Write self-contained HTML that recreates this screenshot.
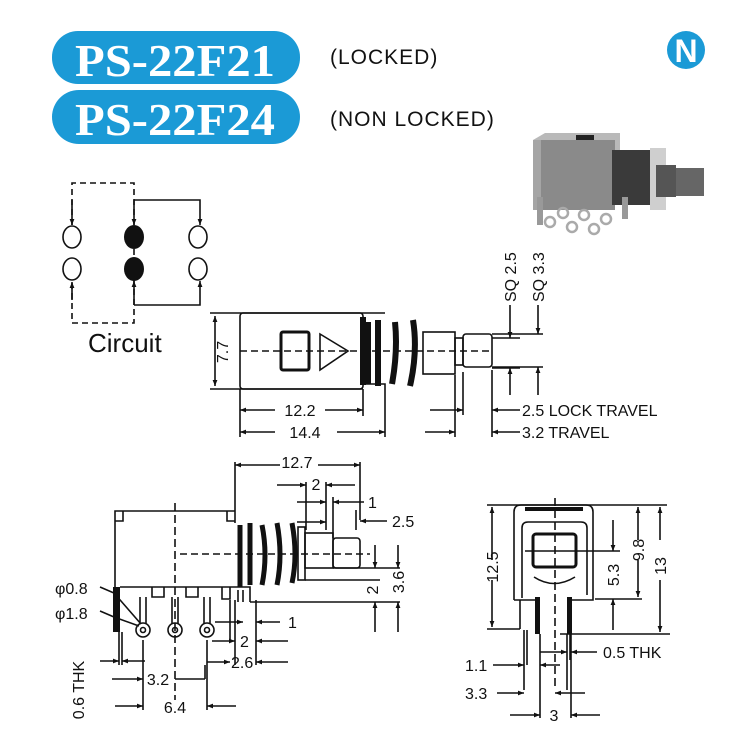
<!DOCTYPE html>
<html><head><meta charset="utf-8"><style>
html,body{margin:0;padding:0;background:#fff;}
svg{display:block;}
text{font-family:"Liberation Sans",sans-serif;fill:#111;}
.d{font-size:16px;}
</style></head><body>
<svg width="735" height="744" viewBox="0 0 735 744" xmlns="http://www.w3.org/2000/svg">
<defs>
<marker id="a" viewBox="0 0 10 10" refX="10" refY="5" markerWidth="9" markerHeight="6" orient="auto-start-reverse" markerUnits="userSpaceOnUse"><path d="M0,1 L10,5 L0,9 z" fill="#111"/></marker>
</defs>
<!-- header -->
<rect x="52" y="31" width="248" height="53" rx="26" fill="#1b9ad6"/>
<rect x="52" y="90" width="248" height="54" rx="27" fill="#1b9ad6"/>
<text x="75" y="76" textLength="200" lengthAdjust="spacingAndGlyphs" style="font-family:'Liberation Serif',serif;font-weight:bold;font-size:46px;fill:#fff">PS-22F21</text>
<text x="75" y="135" textLength="200" lengthAdjust="spacingAndGlyphs" style="font-family:'Liberation Serif',serif;font-weight:bold;font-size:46px;fill:#fff">PS-22F24</text>
<text x="330" y="64" style="font-size:21px;letter-spacing:1px">(LOCKED)</text>
<text x="330" y="126" style="font-size:21px;letter-spacing:1px">(NON LOCKED)</text>
<circle cx="686" cy="50" r="19" fill="#1b9ad6"/>
<text x="686" y="62" text-anchor="middle" style="font-size:32px;font-weight:bold;fill:#fff">N</text>
<!-- photo -->
<g>
<polygon points="533,140 545,133 620,133 620,150 533,150" fill="#b9b9b9"/>
<rect x="533" y="140" width="82" height="70" fill="#8a8a8a"/>
<rect x="533" y="140" width="8" height="70" fill="#a5a5a5"/>
<rect x="576" y="135" width="18" height="5" fill="#222"/>
<rect x="612" y="150" width="42" height="55" fill="#3a3a3a"/>
<rect x="650" y="148" width="16" height="62" fill="#cfcfcf"/>
<rect x="656" y="165" width="20" height="32" fill="#555"/>
<rect x="676" y="168" width="28" height="28" fill="#666"/>
<rect x="537" y="197" width="6" height="28" fill="#999"/>
<rect x="622" y="197" width="6" height="22" fill="#999"/>
<g fill="none" stroke="#aaa" stroke-width="2.5"><circle cx="550" cy="222" r="5"/><circle cx="563" cy="213" r="5"/><circle cx="572" cy="227" r="5"/><circle cx="584" cy="215" r="5"/><circle cx="594" cy="229" r="5"/><circle cx="606" cy="219" r="5"/></g>
</g>
<!-- circuit -->
<g stroke="#111" stroke-width="1.6" fill="none">
<path d="M72,225 V183 H134 V323 H72 V282" stroke-dasharray="6,4"/>
<path d="M72,200 V225" marker-end="url(#a)"/>
<path d="M72,300 V282" marker-end="url(#a)"/>
<path d="M134,200 V225" marker-end="url(#a)"/>
<path d="M134,200 H200 V225" marker-end="url(#a)"/>
<path d="M134,305 V281" marker-end="url(#a)"/>
<path d="M134,305 H200 V281" marker-end="url(#a)"/>
<ellipse cx="72" cy="237" rx="9" ry="11"/><ellipse cx="198" cy="237" rx="9" ry="11"/>
<ellipse cx="72" cy="269" rx="9" ry="11"/><ellipse cx="198" cy="269" rx="9" ry="11"/>
</g>
<ellipse cx="134" cy="237" rx="10" ry="12" fill="#111"/><ellipse cx="134" cy="269" rx="10" ry="12" fill="#111"/>
<text x="88" y="352" style="font-size:26px">Circuit</text>
<!-- top drawing -->
<g stroke="#111" stroke-width="1.6" fill="none">
<path d="M210,313 H385 M210,389 H363"/>
<path d="M215,316 V386" marker-start="url(#a)" marker-end="url(#a)"/>
<rect x="240" y="313" width="123" height="76" rx="3"/>
<path d="M363,384 H385 V437 M240,389 V437 M363,389 V416"/>
<rect x="281" y="332" width="28" height="38" rx="2" stroke-width="3"/>
<path d="M320,334 L348,351 L320,370 Z"/>
<rect x="423" y="332" width="32" height="42"/>
<rect x="455" y="338" width="8" height="27"/>
<rect x="463" y="334" width="29" height="33" rx="3"/>
<path d="M240,351 H492" stroke-dasharray="7,4"/>
<path d="M492,338 H520 M492,334 H543 M492,368 H520 M492,367 H543"/>
<path d="M510,305 V338" marker-end="url(#a)"/><path d="M538,305 V334" marker-end="url(#a)"/>
<path d="M510,395 V368" marker-end="url(#a)"/><path d="M538,395 V367" marker-end="url(#a)"/>
<path d="M463,372 V415 M492,370 V437 M455,375 V437"/>
<path d="M430,410 H463" marker-end="url(#a)"/><path d="M520,410 H492" marker-end="url(#a)"/>
<path d="M425,432 H455" marker-end="url(#a)"/><path d="M520,432 H492" marker-end="url(#a)"/>
<path d="M275,410 H240" marker-end="url(#a)"/><path d="M325,410 H363" marker-end="url(#a)"/>
<path d="M275,432 H240" marker-end="url(#a)"/><path d="M337,432 H385" marker-end="url(#a)"/>
</g>
<g fill="none" stroke="#111" stroke-width="6">
<path d="M368,322 V384 M378,320 V386 M395,322 Q398,351 392,384 M413,320 Q418,351 410,386"/>
</g>
<rect x="360" y="317" width="6" height="68" fill="#111"/>
<text class="d" transform="translate(228,352) rotate(-90)" text-anchor="middle">7.7</text>
<text class="d" x="300" y="416" text-anchor="middle">12.2</text>
<text class="d" x="305" y="438" text-anchor="middle">14.4</text>
<text class="d" x="522" y="416">2.5  LOCK  TRAVEL</text>
<text class="d" x="522" y="438">3.2  TRAVEL</text>
<text class="d" transform="translate(516,302) rotate(-90)">SQ 2.5</text>
<text class="d" transform="translate(544,302) rotate(-90)">SQ 3.3</text>
<!-- bottom-left -->
<g stroke="#111" stroke-width="1.6" fill="none">
<path d="M115,587 V511 H235 V462 M235,511 V523 M115,511 h8 v10 h-8 M235,511 h-8 v10 h8"/>
<path d="M360,462 V520"/>
<path d="M280,465 H235" marker-end="url(#a)"/><path d="M318,465 H360" marker-end="url(#a)"/>
<path d="M175,503 V700" stroke-dasharray="8,4"/>
<path d="M180,554 H370" stroke-dasharray="7,4"/>
<rect x="298" y="527" width="7" height="53"/>
<rect x="305" y="533" width="28" height="35"/>
<rect x="333" y="538" width="27" height="30" rx="3"/>
<path d="M333,568 H400 M305,580 H380 M250,602 H400 M120,587 H250 V602"/>
<path d="M306,482 V530 M326,482 V530 M333,497 V538 M356,510 V530"/>
<path d="M277,485 H306" marker-end="url(#a)"/><path d="M355,485 H326" marker-end="url(#a)"/>
<path d="M297,502 H326" marker-end="url(#a)"/><path d="M364,502 H333" marker-end="url(#a)"/>
<path d="M297,522 H326" marker-end="url(#a)"/><path d="M387,521 H360" marker-end="url(#a)"/>
<path d="M375,545 V568" marker-end="url(#a)"/><path d="M375,632 V602" marker-end="url(#a)"/>
<path d="M398,545 V568" marker-end="url(#a)"/><path d="M398,632 V602" marker-end="url(#a)"/>
<path d="M152,587 v10 h12 v-10 M186,587 v10 h12 v-10 M222,587 v12 h8 v-12 M238,590 v12 M243,590 v12"/>
<path d="M140,597 V624 M146,597 V624 M172,597 V624 M178,597 V624 M204,597 V624 M210,597 V624"/>
<circle cx="143" cy="630" r="7"/><circle cx="175" cy="630" r="7"/><circle cx="207" cy="630" r="7"/>
<circle cx="143" cy="630" r="2.5"/><circle cx="175" cy="630" r="2.5"/><circle cx="207" cy="630" r="2.5"/>
<path d="M119,632 V665 M122,632 V665 M143,640 V710 M207,640 V710 M230,600 V640 M235,600 V665 M256,600 V665"/>
<path d="M100,661 H119" marker-end="url(#a)"/><path d="M145,661 H122" marker-end="url(#a)"/>
<path d="M112,679 H143" marker-end="url(#a)"/><path d="M205,679 H175 M205,679 V665"/>
<path d="M115,706 H143" marker-end="url(#a)"/><path d="M236,706 H207" marker-end="url(#a)"/>
<path d="M215,622 H243" marker-end="url(#a)"/><path d="M280,622 H256" marker-end="url(#a)"/>
<path d="M212,641 H235" marker-end="url(#a)"/><path d="M288,641 H256" marker-end="url(#a)"/>
<path d="M207,662 H230" marker-end="url(#a)"/><path d="M288,662 H256" marker-end="url(#a)"/>
<path d="M100,587 l14,6 l27,31 M100,611 l14,6 l25,9"/>
</g>
<g fill="none" stroke="#111" stroke-width="5">
<path d="M240,525 V587 M250,523 V585 M262,525 Q268,555 262,585 M277,523 Q283,555 277,585 M292,523 Q298,555 292,583"/>
</g>
<rect x="113" y="587" width="7" height="45" fill="#111"/>
<text class="d" x="55" y="594">φ0.8</text>
<text class="d" x="55" y="619">φ1.8</text>
<text class="d" x="297" y="468" text-anchor="middle">12.7</text>
<text class="d" x="316" y="490" text-anchor="middle">2</text>
<text class="d" x="368" y="508">1</text>
<text class="d" x="392" y="527">2.5</text>
<text class="d" transform="translate(378,590) rotate(-90)" text-anchor="middle">2</text>
<text class="d" transform="translate(404,582) rotate(-90)" text-anchor="middle">3.6</text>
<text class="d" x="288" y="628">1</text>
<text class="d" x="240" y="647">2</text>
<text class="d" x="231" y="668">2.6</text>
<text class="d" x="158" y="685" text-anchor="middle">3.2</text>
<text class="d" x="175" y="713" text-anchor="middle">6.4</text>
<text class="d" transform="translate(84,690) rotate(-90)" text-anchor="middle">0.6 THK</text>
<!-- bottom-right -->
<g stroke="#111" stroke-width="1.6" fill="none">
<path d="M487,505 H667"/>
<path d="M514,600 V512 Q514,505 521,505 H586 Q593,505 593,512 V600 H570 M514,600 H537"/>
<path d="M522,598 V528 Q522,522 528,522 H581 Q587,522 587,528 V595"/>
<rect x="533" y="534" width="43" height="33" rx="3" stroke-width="3"/>
<path d="M534,577 Q554,590 575,577"/>
<path d="M555,498 V690" stroke-dasharray="8,4"/>
<path d="M525,551 H620 M595,599 H642 M560,634 H670 M487,629 H520"/>
<path d="M520,600 V629 M524,630 V690 M527,630 V665 M540,634 V718 M567,634 V690 M570,634 V660 M571,634 V718"/>
<path d="M492,560 V507" marker-end="url(#a)"/><path d="M492,580 V627" marker-end="url(#a)"/>
<path d="M613,520 V551" marker-end="url(#a)"/><path d="M613,630 V599" marker-end="url(#a)"/>
<path d="M638,540 V507" marker-end="url(#a)"/><path d="M638,560 V597" marker-end="url(#a)"/>
<path d="M660,540 V507" marker-end="url(#a)"/><path d="M660,580 V632" marker-end="url(#a)"/>
<path d="M540,652 H567" marker-end="url(#a)"/><path d="M597,652 H571" marker-end="url(#a)"/>
<path d="M493,665 H524" marker-end="url(#a)"/><path d="M560,665 H540" marker-end="url(#a)"/>
<path d="M497,693 H524" marker-end="url(#a)"/><path d="M585,693 H555" marker-end="url(#a)"/>
<path d="M510,715 H540" marker-end="url(#a)"/><path d="M600,715 H571" marker-end="url(#a)"/>
</g>
<rect x="535" y="597" width="5" height="37" fill="#111"/><rect x="567" y="597" width="5" height="37" fill="#111"/>
<rect x="525" y="507" width="58" height="4" fill="#111"/>
<text class="d" transform="translate(498,567) rotate(-90)" text-anchor="middle">12.5</text>
<text class="d" transform="translate(619,575) rotate(-90)" text-anchor="middle">5.3</text>
<text class="d" transform="translate(644,550) rotate(-90)" text-anchor="middle">9.8</text>
<text class="d" transform="translate(666,566) rotate(-90)" text-anchor="middle">13</text>
<text class="d" x="603" y="658">0.5 THK</text>
<text class="d" x="465" y="671">1.1</text>
<text class="d" x="465" y="699">3.3</text>
<text class="d" x="554" y="721" text-anchor="middle">3</text>
</svg>
</body></html>
